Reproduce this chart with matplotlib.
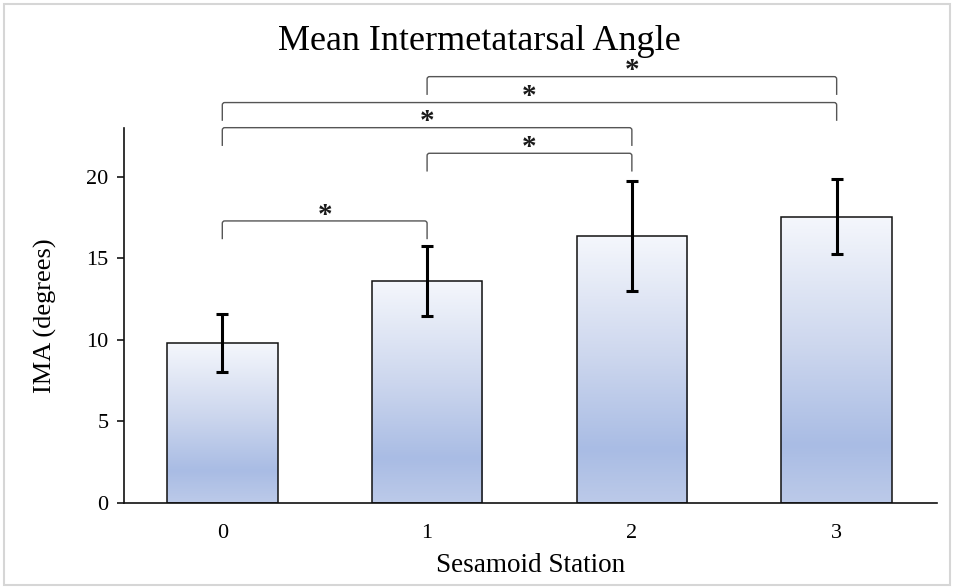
import numpy as np
import matplotlib
matplotlib.use("Agg")
import matplotlib.pyplot as plt
from matplotlib.colors import LinearSegmentedColormap
from matplotlib.patches import Rectangle
from matplotlib.path import Path
from matplotlib.patches import PathPatch

plt.rcParams['font.family'] = ['Liberation Serif', 'DejaVu Serif']

# data
stations = ['0', '1', '2', '3']
mean_ima = [9.82, 13.62, 16.38, 17.56]
sd_ima = [1.76, 2.12, 3.37, 2.31]

# significant comparisons (index pairs) and the height of each bracket
comparisons = [(0, 1), (1, 2), (0, 2), (0, 3), (1, 3)]
bracket_y = [17.30, 21.45, 23.02, 24.56, 26.15]

x = np.arange(len(stations))
bar_w = 0.54

fig = plt.figure(figsize=(9.54, 5.88), dpi=100)
ax = fig.add_axes([124 / 954, 1 - 503 / 588, (937 - 124) / 954, (503 - 128) / 588])

# light grey frame around the whole picture
fig.patches.append(Rectangle((4 / 954, 3 / 588), 946 / 954, 581 / 588,
                             transform=fig.transFigure, fill=False,
                             edgecolor='#d6d6d6', linewidth=1.5))

# gradient fill: light at top, darkest near the bottom, slightly lighter at the base
cmap = LinearSegmentedColormap.from_list(
    'bar_grad', [(0.0, '#bccae9'), (0.2, '#a9bce4'), (0.55, '#cdd7ee'), (1.0, '#f5f7fc')])
grad = np.linspace(0, 1, 256).reshape(-1, 1)

bars = ax.bar(x, mean_ima, width=bar_w, color='none', edgecolor='#111111',
              linewidth=1.1, zorder=3)
for b in bars:
    x0, w, h = b.get_x(), b.get_width(), b.get_height()
    im = ax.imshow(grad, cmap=cmap, origin='lower', aspect='auto',
                   extent=[x0, x0 + w, 0, h], zorder=2)
    im.set_clip_path(b)

ax.errorbar(x, mean_ima, yerr=sd_ima, fmt='none', ecolor='black',
            elinewidth=2.2, capsize=4.3, capthick=2.2, zorder=4)

# significance brackets with slightly rounded corners
leg = 1.12
rx, ry = 0.012, 0.15
for (i, j), yb in zip(comparisons, bracket_y):
    xa, xb = x[i], x[j]
    verts = [(xa, yb - leg), (xa, yb - ry), (xa, yb), (xa + rx, yb),
             (xb - rx, yb), (xb, yb), (xb, yb - ry), (xb, yb - leg)]
    codes = [Path.MOVETO, Path.LINETO, Path.CURVE3, Path.CURVE3,
             Path.LINETO, Path.CURVE3, Path.CURVE3, Path.LINETO]
    ax.add_patch(PathPatch(Path(verts, codes), fill=False, edgecolor='#555555',
                           linewidth=1.0, clip_on=False, zorder=5))
    ax.text((xa + xb) / 2, yb + 0.35, '*', ha='center', va='center',
            fontsize=21, fontweight='bold', color='#1a1a1a', clip_on=False)

ax.set_xlim(-0.48, 3.49)
ax.set_ylim(0, 23)
ax.set_xticks(x)
ax.set_xticklabels(stations)
ax.set_yticks([0, 5, 10, 15, 20])
ax.tick_params(axis='x', length=0, pad=15, labelsize=16)
ax.tick_params(axis='y', direction='out', length=5, width=1.1, pad=6, labelsize=16)

for s in ['top', 'right']:
    ax.spines[s].set_visible(False)
for s in ['left', 'bottom']:
    ax.spines[s].set_linewidth(1.2)
    ax.spines[s].set_color('#111111')

ax.set_xlabel('Sesamoid Station', fontsize=19.5, labelpad=7)
ax.set_ylabel('IMA (degrees)', fontsize=19, labelpad=21)

fig.text(0.503, 1 - 42 / 588, 'Mean Intermetatarsal Angle', ha='center',
         va='center', fontsize=26)

fig.savefig('out.png', dpi=100)
